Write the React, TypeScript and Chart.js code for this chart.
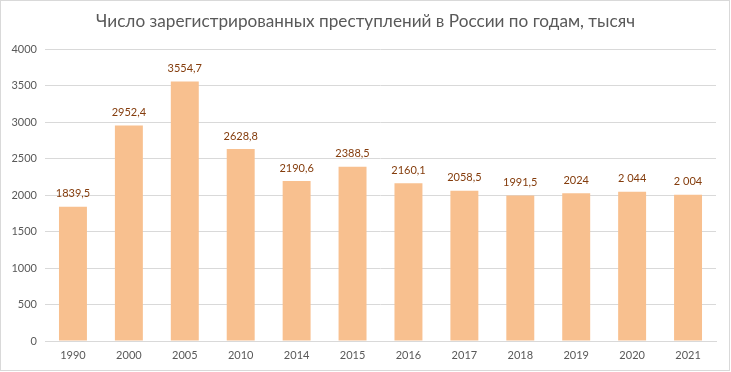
import React, { useEffect, useRef } from "react";
import { Chart, registerables } from "chart.js";

Chart.register(...registerables);

const years = ["1990", "2000", "2005", "2010", "2014", "2015", "2016", "2017", "2018", "2019", "2020", "2021"];
const crimes = [1839.5, 2952.4, 3554.7, 2628.8, 2190.6, 2388.5, 2160.1, 2058.5, 1991.5, 2024, 2044, 2004];
const valueLabels = ["1839,5", "2952,4", "3554,7", "2628,8", "2190,6", "2388,5", "2160,1", "2058,5", "1991,5", "2024", "2 044", "2 004"];
const titleText = "Число зарегистрированных преступлений в России по годам, тысяч";

const FONT = "Lato, 'Open Sans', sans-serif";

const labelPlugin = {
  id: "valueLabels",
  afterDatasetsDraw(chart: any) {
    const ctx = chart.ctx;
    const meta = chart.getDatasetMeta(0);
    ctx.save();
    ctx.font = `11px ${FONT}`;
    ctx.fillStyle = "#843C0C";
    ctx.textAlign = "center";
    ctx.textBaseline = "middle";
    meta.data.forEach((bar: any, i: number) => {
      ctx.fillText(valueLabels[i], bar.x, bar.y - 13);
    });
    ctx.restore();
  },
};

const titlePlugin = {
  id: "centeredTitle",
  afterDraw(chart: any) {
    const ctx = chart.ctx;
    ctx.save();
    ctx.font = `17.2px ${FONT}`;
    ctx.fillStyle = "#595959";
    ctx.textAlign = "center";
    ctx.textBaseline = "middle";
    ctx.fillText(titleText, chart.width / 2, 21);
    ctx.restore();
  },
};

export default function App() {
  const ref = useRef<HTMLCanvasElement>(null);
  useEffect(() => {
    document.body.style.margin = "0";
    const chart = new Chart(ref.current!, {
      type: "bar",
      data: {
        labels: years,
        datasets: [
          {
            data: crimes,
            backgroundColor: "#F8C08F",
            barPercentage: 0.5,
            categoryPercentage: 1,
          },
        ],
      },
      options: {
        animation: false,
        responsive: false,
        layout: { padding: { left: 0, right: 15, top: 49, bottom: 8 } },
        plugins: {
          legend: { display: false },
          tooltip: { enabled: false },
          title: { display: false },
        },
        scales: {
          x: {
            grid: { display: false },
            border: { color: "#D9D9D9" },
            ticks: { color: "#595959", font: { family: FONT, size: 11 }, padding: 0, maxRotation: 0 },
            afterFit(scale: any) {
              scale.height = 23;
            },
          },
          y: {
            min: 0,
            max: 4000,
            ticks: {
              stepSize: 500,
              color: "#595959",
              font: { family: FONT, size: 11 },
              padding: 8,
              callback: (v: any) => String(v),
            },
            grid: { color: "#D9D9D9", drawTicks: false },
            border: { display: false },
            afterFit(scale: any) {
              scale.width = 45;
            },
          },
        },
      },
      plugins: [labelPlugin, titlePlugin],
    });
    return () => chart.destroy();
  }, []);
  return (
    <div style={{ position: "relative", width: 731, height: 372, background: "#fff" }}>
      <canvas ref={ref} width={731} height={372} style={{ position: "absolute", left: 0, top: 0 }} />
      <div
        style={{
          position: "absolute",
          left: 0,
          top: 0,
          width: 730,
          height: 371,
          boxSizing: "border-box",
          border: "1px solid #D9D9D9",
          pointerEvents: "none",
        }}
      />
    </div>
  );
}
